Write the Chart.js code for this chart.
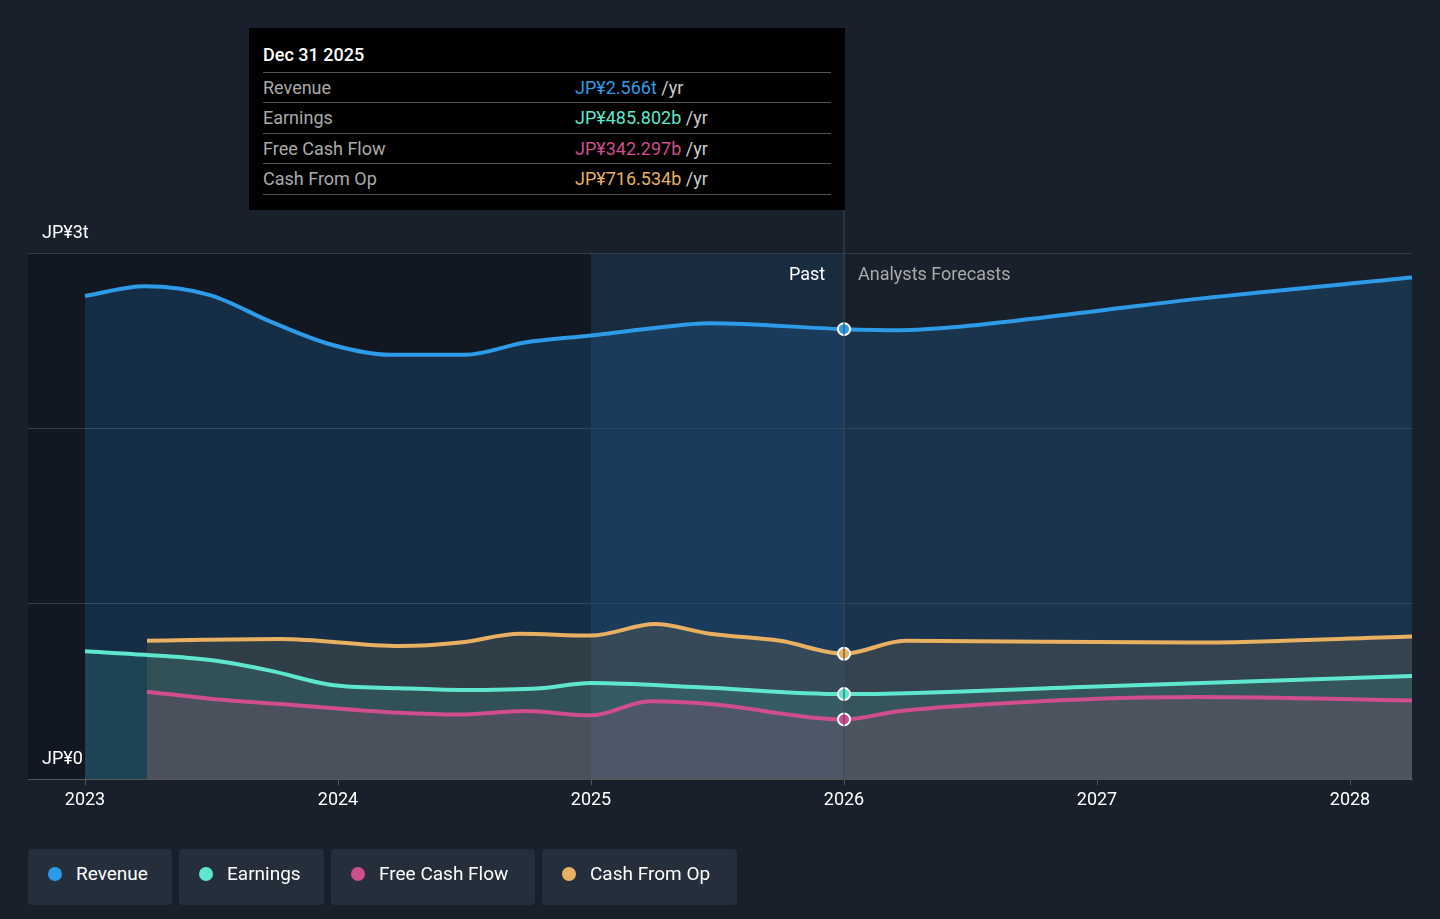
<!DOCTYPE html><html><head><meta charset="utf-8">
<script src="https://cdn.jsdelivr.net/npm/chart.js@4/dist/chart.umd.min.js"></script>
<style>
body{margin:0;background:#18202b;font-family:Roboto,sans-serif;width:1440px;height:919px;overflow:hidden;position:relative}
#wrap{position:absolute;left:0;top:0;width:1440px;height:919px}
.tip{position:absolute;left:249px;top:28px;width:596px;height:182px;background:#000;color:#fff;font-size:18px}
.tip .h{position:absolute;left:14px;top:16px;font-weight:500}
.row{position:absolute;left:14px;width:568px;border-top:1px solid #555;height:30px;line-height:30px;color:#aaa}
.row span.v{position:absolute;left:312px}
.leg{position:absolute;top:849px;height:56px;background:#252e3b;border-radius:4px;color:#fff;font-size:19px;line-height:50px;padding:0 20px 0 48px;box-sizing:border-box}
.leg i{position:absolute;left:20px;top:18px;width:14px;height:14px;border-radius:50%}
.lbl{position:absolute;font-size:18px;color:#fff}
</style></head><body>
<div id="wrap"><canvas id="c" width="1440" height="919"></canvas></div>
<div class="lbl" style="left:42px;top:221px">JP¥3t</div>
<div class="lbl" style="left:42px;top:747px">JP¥0</div>
<div class="lbl" style="left:789px;top:263px">Past</div>
<div class="lbl" style="left:858px;top:263px;color:#aaa">Analysts Forecasts</div>
<div class="tip"><div class="h">Dec 31 2025</div>
<div class="row" style="top:44px">Revenue<span class="v" style="color:#2d9be8">JP¥2.566t <span style="color:#ccc">/yr</span></span></div>
<div class="row" style="top:74px">Earnings<span class="v" style="color:#5ee6cf">JP¥485.802b <span style="color:#ccc">/yr</span></span></div>
<div class="row" style="top:105px">Free Cash Flow<span class="v" style="color:#d04d8e">JP¥342.297b <span style="color:#ccc">/yr</span></span></div>
<div class="row" style="top:135px;border-bottom:1px solid #555">Cash From Op<span class="v" style="color:#e8b060">JP¥716.534b <span style="color:#ccc">/yr</span></span></div>
</div>
<div class="leg" style="left:28px;width:144px"><i style="background:#2d9be8"></i>Revenue</div>
<div class="leg" style="left:179px;width:145px"><i style="background:#5ee6cf"></i>Earnings</div>
<div class="leg" style="left:331px;width:204px"><i style="background:#d04d8e"></i>Free Cash Flow</div>
<div class="leg" style="left:542px;width:195px"><i style="background:#e8b060"></i>Cash From Op</div>
<script>
const px = x => 2023 + (x - 85) / 253;
const revX=[85,145,210,270,330,390,465,525,591,650,710,844,900,960,1097,1200,1412];
const revY=[2.755,2.81,2.76,2.61,2.48,2.42,2.42,2.49,2.53,2.57,2.60,2.566,2.56,2.58,2.67,2.74,2.86];
const earnX=[85,145,210,270,330,400,460,540,591,700,844,1097,1412];
const earnY=[0.73,0.71,0.68,0.62,0.54,0.52,0.51,0.52,0.55,0.525,0.486,0.53,0.59];
const fcfX=[147,210,280,400,460,525,591,650,710,844,900,1097,1200,1412];
const fcfY=[0.50,0.46,0.43,0.38,0.37,0.39,0.365,0.445,0.43,0.342,0.39,0.46,0.47,0.45];
const cfoX=[147,280,400,460,520,591,655,710,780,844,905,1190,1412];
const cfoY=[0.79,0.80,0.76,0.78,0.83,0.82,0.885,0.83,0.79,0.7165,0.79,0.78,0.815];
const yTicks=[0,1,2,3];
const pts=(xs,ys)=>xs.map((x,i)=>({x:px(x),y:ys[i]}));
const NOW=2026;
function ds(label,xs,ys,col,fill){
  return {label,data:pts(xs,ys),borderColor:col,backgroundColor:fill,fill:'origin',borderWidth:4,tension:0.4,cubicInterpolationMode:'monotone',
   pointRadius:ctx=>Math.abs(ctx.raw.x-NOW)<1e-6?6:0,pointBackgroundColor:col,pointBorderColor:'#fff',pointBorderWidth:2};
}
const bg={id:'bg',beforeDraw(c){const {ctx,chartArea:a,scales:{x}}=c;const x25=x.getPixelForValue(2025),x26=x.getPixelForValue(2026);
 ctx.save();ctx.fillStyle='#121821';ctx.fillRect(a.left,a.top,x25-a.left,a.bottom-a.top);
 ctx.fillStyle='rgba(30,70,110,0.3)';ctx.fillRect(x25,a.top,x26-x25,a.bottom-a.top);ctx.restore();},
 afterDatasetsDraw(c){const {ctx,chartArea:a,scales:{x}}=c;const x26=x.getPixelForValue(2026);
 ctx.save();ctx.strokeStyle='#3a4a5c';ctx.lineWidth=1;ctx.beginPath();ctx.moveTo(x26,210);ctx.lineTo(x26,a.bottom);ctx.stroke();ctx.restore();}};
new Chart(document.getElementById('c'),{type:'line',
 data:{datasets:[
  ds('Free Cash Flow',fcfX,fcfY,'#d04d8e','rgba(170,80,120,0.2)'),
  ds('Earnings',earnX,earnY,'#5ee6cf','rgba(60,160,150,0.2)'),
  ds('Cash From Op',cfoX,cfoY,'#e8b060','rgba(160,130,80,0.2)'),
  ds('Revenue',revX,revY,'#2d9be8','rgba(33,110,180,0.25)')]},
 options:{responsive:false,animation:false,layout:{padding:{left:28,right:28,top:253,bottom:104}},
  plugins:{legend:{display:false},tooltip:{enabled:false}},
  scales:{x:{type:'linear',min:px(28),max:px(1412),afterBuildTicks:s=>{s.ticks=[2023,2024,2025,2026,2027,2028].map(v=>({value:v}))},
    grid:{display:true,drawOnChartArea:false,color:'#555',tickLength:6},border:{color:'#555'},ticks:{color:'#fff',font:{size:18,family:'Roboto'},callback:v=>String(v),padding:4}},
   y:{min:0,max:3,afterBuildTicks:s=>{s.ticks=yTicks.map(v=>({value:v}))},display:true,
    grid:{color:'#333d4a',drawTicks:false},border:{display:false},ticks:{display:false}}}},
 plugins:[bg]});
</script></body></html>
